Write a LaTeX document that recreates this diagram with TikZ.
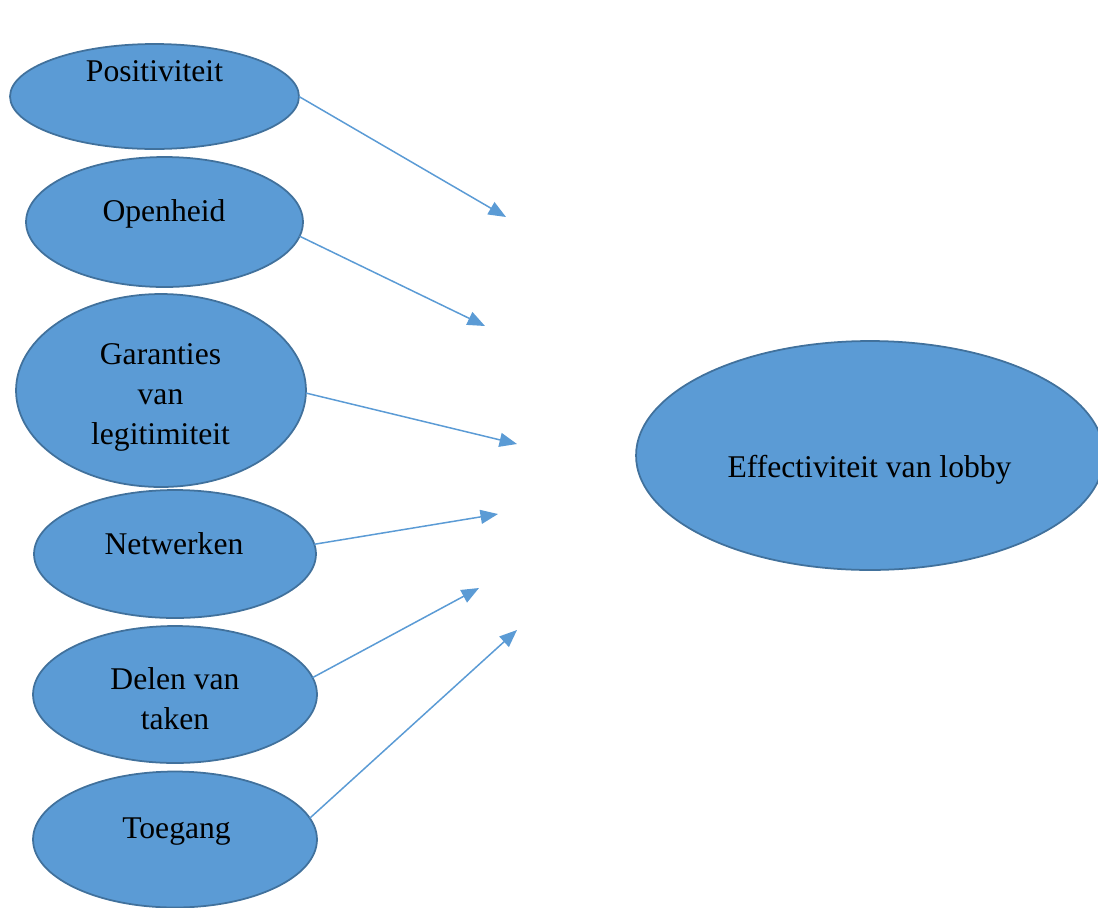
\documentclass[tikz,border=0pt]{standalone}
\usepackage{fontspec}
\setmainfont{Liberation Serif}
\usetikzlibrary{shapes.geometric,arrows.meta}
\definecolor{bubblefill}{HTML}{5B9BD5}
\definecolor{bubbleline}{HTML}{41719C}
\definecolor{linkcol}{HTML}{5B9BD5}
\begin{document}
\begin{tikzpicture}[x=0.02cm,y=-0.02cm,
  bubble/.style={ellipse,draw=bubbleline,fill=bubblefill,line width=1pt,inner sep=0pt,outer sep=0pt},
  caption/.style={font=\fontsize{18}{22.8}\selectfont,align=center,inner sep=0pt,text=black},
  link/.style={draw=linkcol,line width=0.85pt,-{Triangle[length=0.35cm,width=0.28cm]}}]
\useasboundingbox (0,0) rectangle (1098,907);

% factor ellipses on the left
\node[bubble,minimum width=5.78cm,minimum height=2.10cm] (pos) at (154.5,96.5) {};
\node[bubble,minimum width=5.54cm,minimum height=2.60cm] (open) at (164.5,222) {};
\node[bubble,minimum width=5.80cm,minimum height=3.86cm] (gar) at (161,390.5) {};
\node[bubble,minimum width=5.64cm,minimum height=2.56cm] (net) at (175,554) {};
\node[bubble,minimum width=5.68cm,minimum height=2.74cm] (del) at (175,694.5) {};
\node[bubble,minimum width=5.68cm,minimum height=2.72cm] (toe) at (175,839.5) {};

% outcome ellipse on the right
\node[bubble,minimum width=9.36cm,minimum height=4.58cm] (eff) at (870,455.5) {};

% labels
\node[caption,anchor=base] (pos-t) at (154.5,81.5) {Positiviteit};
\node[caption,anchor=base] (open-t) at (164,221) {Openheid};
\node[caption] (gar-t) at (160.5,397) {Garanties\\van\\legitimiteit};
\node[caption,anchor=base] (net-t) at (174,554) {Netwerken};
\node[caption] (del-t) at (175,698.5) {Delen van\\taken};
\node[caption,anchor=base] (toe-t) at (176.5,838) {Toegang};
\node[caption,anchor=base] (eff-t) at (869.5,477) {Effectiviteit van lobby};

% free arrow tips
\coordinate (tip1) at (506,217);
\coordinate (tip2) at (485,326);
\coordinate (tip3) at (517,444);
\coordinate (tip4) at (498,514);
\coordinate (tip5) at (479,588);
\coordinate (tip6) at (517,630);

% connectors
\draw[link] (pos.0) -- (tip1);
\draw[link] (open.-6.4) -- (tip2);
\draw[link] (gar.-1.8) -- (tip3);
\draw[link] (net.4.6) -- (tip4);
\draw[link] (del.7.6) -- (tip5);
\draw[link] (toe.9.3) -- (tip6);
\end{tikzpicture}
\end{document}
